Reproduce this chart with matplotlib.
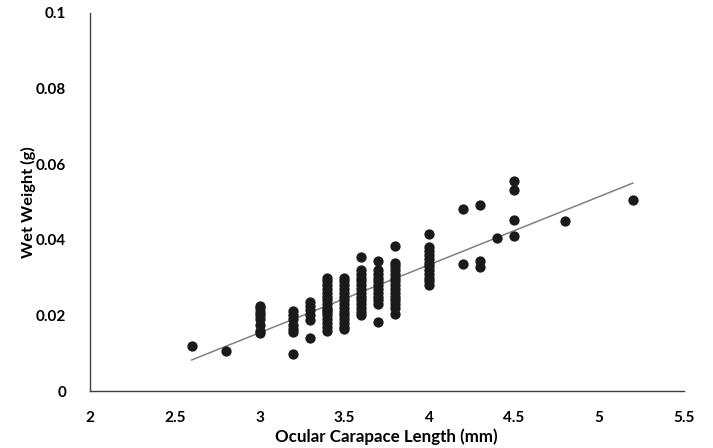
import numpy as np
import matplotlib.pyplot as plt

# carapace length (mm) -> wet weights (g) measured at that length
length_groups = [2.6, 2.8, 3.0, 3.2, 3.3, 3.4, 3.5, 3.6, 3.7, 3.8, 4.0, 4.2, 4.3, 4.4, 4.5, 4.8, 5.2]
weight_groups = [
    [0.0119],
    [0.0105],
    [0.0153, 0.016, 0.0175, 0.019, 0.020, 0.021, 0.022, 0.0225],
    [0.0097, 0.0155, 0.0165, 0.0175, 0.019, 0.020, 0.0213],
    [0.014, 0.0188, 0.020, 0.0215, 0.0225, 0.0235],
    [0.016, 0.017, 0.018, 0.019, 0.020, 0.021, 0.0215, 0.022, 0.023, 0.024,
     0.025, 0.026, 0.027, 0.028, 0.029, 0.030],
    [0.0165, 0.017, 0.018, 0.019, 0.020, 0.021, 0.022, 0.023, 0.024, 0.025,
     0.026, 0.027, 0.028, 0.029, 0.030],
    [0.020, 0.021, 0.022, 0.023, 0.024, 0.025, 0.026, 0.027, 0.028, 0.029,
     0.030, 0.031, 0.032, 0.0355],
    [0.0182, 0.023, 0.024, 0.025, 0.026, 0.027, 0.028, 0.029, 0.030, 0.031,
     0.032, 0.0345],
    [0.0203, 0.022, 0.023, 0.024, 0.025, 0.026, 0.027, 0.028, 0.029, 0.030,
     0.031, 0.032, 0.033, 0.034, 0.0384],
    [0.028, 0.029, 0.030, 0.031, 0.032, 0.033, 0.034, 0.035, 0.036, 0.037,
     0.038, 0.0416],
    [0.0337, 0.0482],
    [0.0329, 0.0345, 0.0492],
    [0.0405],
    [0.041, 0.0453, 0.0531, 0.0555],
    [0.045],
    [0.0505],
]

x = np.concatenate([[l] * len(w) for l, w in zip(length_groups, weight_groups)])
y = np.concatenate(weight_groups)

plt.rcParams['font.family'] = ['Lato', 'DejaVu Sans']

fig = plt.figure(figsize=(7.13, 4.48), dpi=100)
ax = fig.add_axes([0.126, 0.127, 0.833, 0.844])

ax.scatter(x, y, s=55, color='#1a1a1a', zorder=3, linewidths=0)

# linear trendline over the data range
k, b = np.polyfit(x, y, 1)
xf = np.array([x.min(), x.max()])
ax.plot(xf, k * xf + b, color='#808080', lw=1.1, zorder=2)

ax.set_xlim(2, 5.5)
ax.set_ylim(0, 0.1)
ax.set_xticks(np.arange(2, 5.51, 0.5))
ax.set_xticklabels(['2', '2.5', '3', '3.5', '4', '4.5', '5', '5.5'])
ax.set_yticks(np.arange(0, 0.101, 0.02))
ax.set_yticklabels(['0', '0.02', '0.04', '0.06', '0.08', '0.1'])

for side in ['top', 'right']:
    ax.spines[side].set_visible(False)
for side in ['left', 'bottom']:
    ax.spines[side].set_color('#404040')
    ax.spines[side].set_linewidth(1.0)

ax.tick_params(length=0, labelsize=11)
ax.tick_params(axis='x', pad=14)
ax.tick_params(axis='y', pad=17)
for lbl in ax.get_xticklabels() + ax.get_yticklabels():
    lbl.set_fontweight('bold')

ax.set_xlabel('Ocular Carapace Length (mm)', fontsize=12.2, fontweight='bold', labelpad=3)
ax.set_ylabel('Wet Weight (g)', fontsize=11.8, fontweight='bold', labelpad=0)

fig.savefig('out.png', dpi=100)
